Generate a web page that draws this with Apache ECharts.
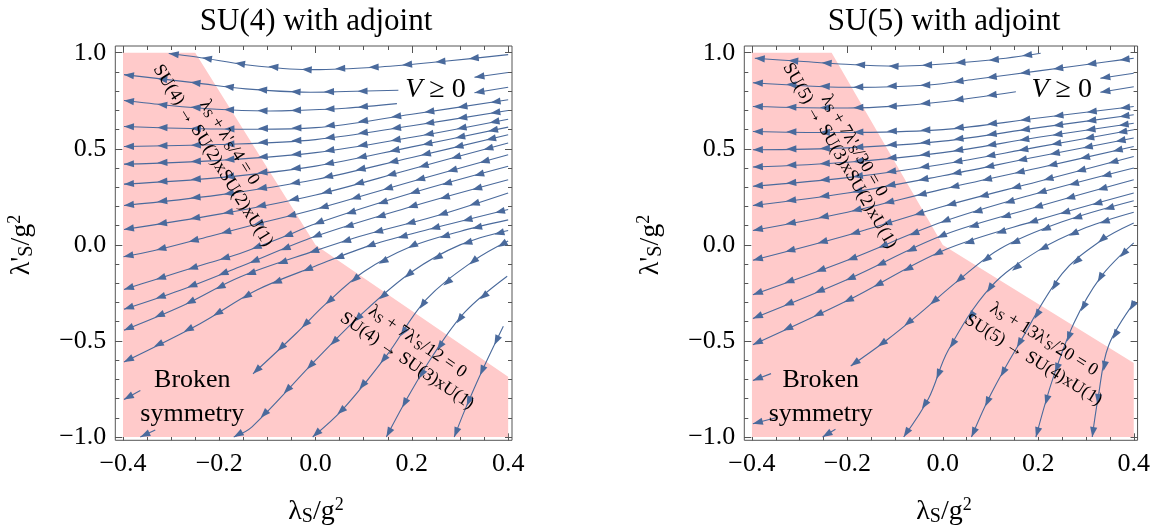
<!DOCTYPE html>
<html>
<head>
<meta charset="utf-8">
<script src="https://cdn.jsdelivr.net/npm/echarts@6/dist/echarts.min.js"></script>
<style>
  html, body { margin: 0; padding: 0; background: #fff; }
  #chart { width: 1153px; height: 526px; }
</style>
</head>
<body>
<div id="chart"></div>
<script>
// tick values
var xTicks = [-0.4, -0.2, 0, 0.2, 0.4];
var xMinor = [-0.4, -0.35, -0.3, -0.25, -0.2, -0.15, -0.1, -0.05, 0, 0.05, 0.1, 0.15, 0.2, 0.25, 0.3, 0.35, 0.4];
var yTicks = [-1, -0.5, 0, 0.5, 1];
var yMinor = [-1, -0.9, -0.8, -0.7, -0.6, -0.5, -0.4, -0.3, -0.2, -0.1, 0, 0.1, 0.2, 0.3, 0.4, 0.5, 0.6, 0.7, 0.8, 0.9, 1];

// broken symmetry regions (polygon corners)
var su4Region = [[-0.4, 1], [-0.25, 1], [0, 0], [0.4, -0.686], [0.4, -1], [-0.4, -1]];
var su5Region = [[-0.4, 1], [-0.233, 1], [0, 0], [0.4, -0.615], [0.4, -1], [-0.4, -1]];

// streamlines, listed in flow order
var su4Lines = [
  [[0.40, 0.99], [0.273, 0.957], [0.134, 0.926], [-0.015, 0.912], [-0.136, 0.935], [-0.247, 0.978], [-0.305, 0.996]],
  [[0.40, 0.897], [0.33, 0.872]],
  [[0.40, 0.82], [0.33, 0.792]],
  [[0.172, 0.805], [0.062, 0.798], [-0.028, 0.795], [-0.145, 0.812], [-0.249, 0.843], [-0.398, 0.886]],
  [[0.169, 0.735], [0.062, 0.711], [-0.028, 0.701], [-0.101, 0.697], [-0.205, 0.706], [-0.309, 0.727], [-0.398, 0.751]],
  [[0.40, 0.755], [0.2, 0.68], [0.0, 0.61], [-0.2, 0.603], [-0.398, 0.616]],
  [[0.40, 0.699], [0.2, 0.62], [0.0, 0.548], [-0.2, 0.522], [-0.398, 0.512]],
  [[0.40, 0.654], [0.2, 0.56], [0.0, 0.48], [-0.2, 0.44], [-0.398, 0.42]],
  [[0.40, 0.613], [0.2, 0.51], [0.0, 0.41], [-0.2, 0.35], [-0.398, 0.316]],
  [[0.40, 0.573], [0.2, 0.455], [0.0, 0.34], [-0.2, 0.26], [-0.398, 0.205]],
  [[0.40, 0.53], [0.2, 0.395], [0.0, 0.26], [-0.2, 0.16], [-0.398, 0.08]],
  [[0.40, 0.469], [0.2, 0.33], [0.0, 0.185], [-0.12, 0.11], [-0.219, 0.045], [-0.337, -0.031], [-0.399, -0.062]],
  [[0.40, 0.409], [0.2, 0.27], [0.0, 0.11], [-0.066, 0.042], [-0.157, -0.045], [-0.226, -0.097], [-0.337, -0.184], [-0.398, -0.232]],
  [[0.40, 0.339], [0.2, 0.2], [0.0, 0.045], [-0.157, -0.114], [-0.281, -0.236], [-0.398, -0.335]],
  [[0.40, 0.27], [0.25, 0.15], [0.1, 0.05], [0.0, -0.03], [-0.157, -0.167], [-0.274, -0.314], [-0.398, -0.444]],
  [[0.40, 0.184], [0.25, 0.09], [0.117, 0.0], [0.0, -0.11], [-0.122, -0.235], [-0.24, -0.41], [-0.398, -0.609]],
  [[0.40, 0.13], [0.3, 0.07], [0.197, -0.01], [0.1, -0.14], [0.02, -0.31], [-0.04, -0.46], [-0.13, -0.671]],
  [[0.40, 0.075], [0.3, 0.0], [0.2, -0.14], [0.1, -0.35], [0.0, -0.6], [-0.132, -0.947], [-0.17, -1.0]],
  [[0.40, 0.02], [0.33, -0.08], [0.23, -0.284], [0.147, -0.578], [0.057, -0.855], [-0.006, -1.0]],
  [[0.398, -0.163], [0.31, -0.35], [0.243, -0.578], [0.19, -0.8], [0.147, -1.0]],
  [[0.39, -0.423], [0.344, -0.665], [0.31, -0.86], [0.288, -1.0]],
  [[-0.364, -0.758], [-0.398, -0.805]],
  [[-0.333, -0.964], [-0.364, -1.0]]
];
var su5Lines = [
  [[0.205, 0.997], [0.10, 0.962], [-0.03, 0.936], [-0.099, 0.93], [-0.203, 0.94], [-0.307, 0.957], [-0.394, 0.971]],
  [[0.40, 0.971], [0.344, 0.953], [0.205, 0.907], [0.067, 0.862], [-0.03, 0.832], [-0.2, 0.82], [-0.398, 0.844]],
  [[0.40, 0.893], [0.33, 0.867]],
  [[0.40, 0.823], [0.33, 0.794]],
  [[0.153, 0.797], [0.0, 0.745], [-0.1, 0.722], [-0.2, 0.712], [-0.398, 0.72]],
  [[0.40, 0.72], [0.2, 0.66], [0, 0.60], [-0.2, 0.585], [-0.398, 0.59]],
  [[0.40, 0.677], [0.2, 0.61], [0, 0.54], [-0.2, 0.505], [-0.398, 0.495]],
  [[0.40, 0.633], [0.2, 0.56], [0, 0.48], [-0.2, 0.43], [-0.398, 0.405]],
  [[0.40, 0.599], [0.2, 0.51], [0, 0.42], [-0.2, 0.35], [-0.398, 0.305]],
  [[0.40, 0.556], [0.2, 0.46], [0, 0.36], [-0.2, 0.27], [-0.398, 0.205]],
  [[0.40, 0.512], [0.2, 0.40], [0, 0.29], [-0.2, 0.17], [-0.398, 0.075]],
  [[0.40, 0.46], [0.2, 0.33], [0, 0.20], [-0.2, 0.05], [-0.398, -0.08]],
  [[0.40, 0.40], [0.2, 0.27], [0, 0.12], [-0.2, -0.08], [-0.398, -0.26]],
  [[0.40, 0.339], [0.2, 0.20], [0, 0.05], [-0.2, -0.18], [-0.398, -0.383]],
  [[0.40, 0.27], [0.2, 0.13], [0, -0.03], [-0.2, -0.29], [-0.398, -0.52]],
  [[0.40, 0.23], [0.25, 0.12], [0.12, -0.02], [0.03, -0.19], [-0.05, -0.36], [-0.12, -0.5], [-0.193, -0.63]],
  [[0.40, 0.17], [0.3, 0.09], [0.2, -0.03], [0.1, -0.22], [0.011, -0.55], [-0.03, -0.8], [-0.082, -1.0]],
  [[0.40, 0.114], [0.33, 0.02], [0.25, -0.15], [0.157, -0.526], [0.1, -0.78], [0.06, -1.0]],
  [[0.40, 0.01], [0.33, -0.17], [0.275, -0.405], [0.23, -0.7], [0.195, -1.0]],
  [[0.403, -0.293], [0.347, -0.526], [0.325, -0.8], [0.313, -1.0]],
  [[-0.36, -0.67], [-0.398, -0.706]],
  [[-0.35, -0.9], [-0.398, -0.931]],
  [[-0.225, -0.96], [-0.252, -1.0]]
];

// annotations; angle follows the region edge between two corners
var su4Notes = [
  { at: [-0.179, 0.533], text: '{t|λ}{s|S}{t| + λ\'}{s|S}{t|/4 = 0}', edge: [1, 2] },
  { at: [-0.213, 0.464], text: '{t|SU(4) → SU(2)xSU(2)xU(1)}', edge: [1, 2] },
  { at: [0.212, -0.504], text: '{t|λ}{s|S}{t| + 7λ\'}{s|S}{t|/12 = 0}', edge: [2, 3] },
  { at: [0.19, -0.604], text: '{t|SU(4) → SU(3)xU(1)}', edge: [2, 3] }
];
var su5Notes = [
  { at: [-0.186, 0.516], text: '{t|λ}{s|S}{t| + 7λ\'}{s|S}{t|/30 = 0}', edge: [1, 2] },
  { at: [-0.216, 0.464], text: '{t|SU(5) → SU(3)xSU(2)xU(1)}', edge: [1, 2] },
  { at: [0.212, -0.492], text: '{t|λ}{s|S}{t| + 13λ\'}{s|S}{t|/20 = 0}', edge: [2, 3] },
  { at: [0.19, -0.599], text: '{t|SU(5) → SU(4)xU(1)}', edge: [2, 3] }
];
var vLabelAt = [0.249, 0.806];
var brokenAt = [-0.256, -0.794];

var lineColor = '#4a6a9c';
var pink = '#ffcaca';
var frameColor = '#555';
var serif = '"Liberation Serif", "DejaVu Serif", serif';
var xLo = -0.416, xHi = 0.408, yLo = -1.017, yHi = 1.035;

var noteRich = {
  t: { fontFamily: serif, fontSize: 18, color: '#111' },
  s: { fontFamily: serif, fontSize: 13, color: '#111', padding: [7, 0, 0, 0] }
};

function fmt(v) {
  return (v < 0 ? '\u2212' : '') + Math.abs(v).toFixed(1);
}

function tickAxis(base, pos, vals, len, labels, margin) {
  return Object.assign({}, base, {
    position: pos,
    axisLine: { show: false, onZero: false },
    axisTick: { customValues: vals, inside: true, length: len, lineStyle: { color: frameColor } },
    axisLabel: labels ? { customValues: vals, formatter: fmt, margin: margin, fontFamily: serif, fontSize: 26, color: '#000' } : { show: false }
  });
}
function xAxes(g) {
  var base = { type: 'value', gridIndex: g, min: xLo, max: xHi, splitLine: { show: false } };
  return [
    tickAxis(base, 'bottom', xTicks, 7, true, 11),
    tickAxis(base, 'bottom', xMinor, 4, false),
    tickAxis(base, 'top', xTicks, 7, false),
    tickAxis(base, 'top', xMinor, 4, false)
  ];
}
function yAxes(g) {
  var base = { type: 'value', gridIndex: g, min: yLo, max: yHi, splitLine: { show: false } };
  return [
    tickAxis(base, 'left', yTicks, 7, true, 9),
    tickAxis(base, 'left', yMinor, 4, false),
    tickAxis(base, 'right', yTicks, 7, false),
    tickAxis(base, 'right', yMinor, 4, false)
  ];
}

function regionSeries(region, ax) {
  return {
    type: 'custom', xAxisIndex: ax, yAxisIndex: ax, z: 1, silent: true, data: [[0]],
    renderItem: function (params, api) {
      return { type: 'polygon', shape: { points: region.map(function (p) { return api.coord(p); }) },
        style: { fill: pink } };
    }
  };
}

function streamSeries(lines, ax) {
  return {
    type: 'custom', xAxisIndex: ax, yAxisIndex: ax, z: 2, silent: true, clip: true,
    data: lines.map(function (l, i) { return [i]; }),
    renderItem: function (params, api) {
      var pts = lines[api.value(0)].map(function (p) { return api.coord(p); });
      var kids = [{ type: 'polyline', shape: { points: pts, smooth: 0.35 },
        style: { stroke: lineColor, lineWidth: 1.1, fill: null } }];
      var seg = [], total = 0, i;
      for (i = 1; i < pts.length; i++) {
        var l = Math.hypot(pts[i][0] - pts[i - 1][0], pts[i][1] - pts[i - 1][1]);
        seg.push(l); total += l;
      }
      // arrowheads, back from the end of the line
      for (var s = total; s > 10; s -= 33.5) {
        var acc = 0, k = 0;
        while (k < seg.length - 1 && acc + seg[k] < s) { acc += seg[k]; k++; }
        var a = pts[k], b = pts[k + 1];
        var t = (s - acc) / seg[k];
        var ux = (b[0] - a[0]) / seg[k], uy = (b[1] - a[1]) / seg[k];
        var tx = a[0] + (b[0] - a[0]) * t, ty = a[1] + (b[1] - a[1]) * t;
        kids.push({ type: 'polygon', shape: { points: [[tx, ty],
          [tx - 10 * ux - 3.6 * uy, ty - 10 * uy + 3.6 * ux],
          [tx - 10 * ux + 3.6 * uy, ty - 10 * uy - 3.6 * ux]] }, style: { fill: lineColor } });
      }
      return { type: 'group', children: kids };
    }
  };
}

function noteSeries(notes, region, ax) {
  return {
    type: 'custom', xAxisIndex: ax, yAxisIndex: ax, z: 3, silent: true,
    data: notes.map(function (n, i) { return [i]; }),
    renderItem: function (params, api) {
      var n = notes[api.value(0)];
      var p = api.coord(n.at);
      var e0 = api.coord(region[n.edge[0]]), e1 = api.coord(region[n.edge[1]]);
      var ang = Math.atan2(e1[1] - e0[1], e1[0] - e0[0]);
      return { type: 'text', x: p[0], y: p[1], rotation: -ang,
        style: { text: n.text, rich: noteRich, align: 'center', verticalAlign: 'middle' } };
    }
  };
}

function plainSeries(ax) {
  return {
    type: 'custom', xAxisIndex: ax, yAxisIndex: ax, z: 3, silent: true, data: [[0]],
    renderItem: function (params, api) {
      var v = api.coord(vLabelAt), b = api.coord(brokenAt);
      return { type: 'group', children: [
        { type: 'text', x: v[0], y: v[1], style: { text: '{i|V}{t| ≥ 0}', align: 'center', verticalAlign: 'middle',
          rich: { i: { fontFamily: serif, fontStyle: 'italic', fontSize: 28, color: '#000' },
                  t: { fontFamily: serif, fontSize: 28, color: '#000' } } } },
        { type: 'text', x: b[0], y: b[1], style: { text: 'Broken\nsymmetry', align: 'center', verticalAlign: 'middle',
          fontFamily: serif, fontSize: 26, lineHeight: 34, fill: '#000' } }
      ] };
    }
  };
}

var nameRich = {
  t: { fontFamily: serif, fontSize: 28, color: '#000' },
  s: { fontFamily: serif, fontSize: 20, color: '#000', padding: [9, 0, 0, 0] },
  p: { fontFamily: serif, fontSize: 18, color: '#000', padding: [0, 0, 14, 0] }
};

var chart = echarts.init(document.getElementById('chart'));
chart.setOption({
  animation: false,
  grid: [
    { left: 115.3, top: 46, width: 396.7, height: 394.3, show: true, borderColor: frameColor, borderWidth: 1, backgroundColor: 'transparent' },
    { left: 744.3, top: 46, width: 396.7, height: 394.3, show: true, borderColor: frameColor, borderWidth: 1, backgroundColor: 'transparent' }
  ],
  xAxis: xAxes(0).concat(xAxes(1)),
  yAxis: yAxes(0).concat(yAxes(1)),
  graphic: [
    { type: 'text', x: 316, y: 22, style: { text: 'SU(4) with adjoint', font: '31px "Liberation Serif"', fill: '#000', align: 'center', verticalAlign: 'middle' } },
    { type: 'text', x: 944, y: 22, style: { text: 'SU(5) with adjoint', font: '31px "Liberation Serif"', fill: '#000', align: 'center', verticalAlign: 'middle' } },
    { type: 'text', x: 316, y: 512, style: { text: '{t|λ}{s|S}{t|/g}{p|2}', rich: nameRich, align: 'center', verticalAlign: 'middle' } },
    { type: 'text', x: 944, y: 512, style: { text: '{t|λ}{s|S}{t|/g}{p|2}', rich: nameRich, align: 'center', verticalAlign: 'middle' } },
    { type: 'text', x: 22, y: 245, rotation: Math.PI / 2, style: { text: '{t|λ\'}{s|S}{t|/g}{p|2}', rich: nameRich, align: 'center', verticalAlign: 'middle' } },
    { type: 'text', x: 651, y: 245, rotation: Math.PI / 2, style: { text: '{t|λ\'}{s|S}{t|/g}{p|2}', rich: nameRich, align: 'center', verticalAlign: 'middle' } }
  ],
  series: [
    regionSeries(su4Region, 0),
    streamSeries(su4Lines, 0),
    noteSeries(su4Notes, su4Region, 0),
    plainSeries(0),
    regionSeries(su5Region, 4),
    streamSeries(su5Lines, 4),
    noteSeries(su5Notes, su5Region, 4),
    plainSeries(4)
  ]
});
</script>
</body>
</html>
